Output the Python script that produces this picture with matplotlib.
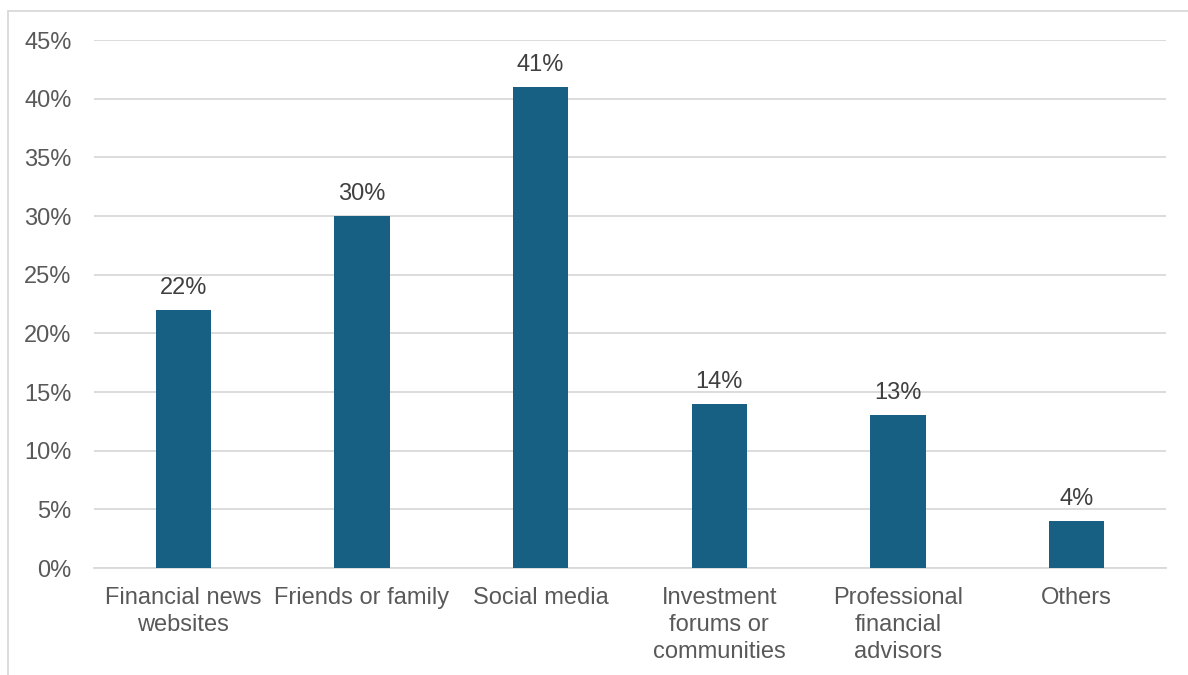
import matplotlib.pyplot as plt
from matplotlib.patches import Rectangle

plt.rcParams['font.family'] = ['Liberation Sans', 'DejaVu Sans']

# survey data: where people get investment information
categories = ['Financial news\nwebsites', 'Friends or family', 'Social media',
              'Investment\nforums or\ncommunities', 'Professional\nfinancial\nadvisors', 'Others']
shares = [22, 30, 41, 14, 13, 4]
ticks = [0, 5, 10, 15, 20, 25, 30, 35, 40, 45]

bar_color = '#176083'
grid_color = '#d9d9d9'
text_color = '#595959'

fig = plt.figure(figsize=(11.88, 6.75), dpi=100)
ax = fig.add_axes([0.0791, 0.1585, 0.9024, 0.7822])

x = range(len(categories))
bars = ax.bar(x, shares, width=0.31, color=bar_color, zorder=3)

# value labels above each bar
for xi, v in zip(x, shares):
    ax.text(xi, v + 0.95, f'{v}%', ha='center', va='bottom', fontsize=17, color='#404040')

ax.set_xlim(-0.5, len(categories) - 0.5)
ax.set_ylim(0, 45)
ax.set_yticks(ticks)
ax.set_yticklabels([f'{t}%' for t in ticks])
ax.set_xticks(list(x))
ax.set_xticklabels(categories, linespacing=1.29)

ax.tick_params(axis='both', length=0, labelsize=17, colors=text_color)
ax.tick_params(axis='y', pad=16)
ax.tick_params(axis='x', pad=14)
ax.yaxis.grid(True, color=grid_color, linewidth=1.3, zorder=0)
for side in ['top', 'right', 'left']:
    ax.spines[side].set_visible(False)
ax.spines['bottom'].set_color(grid_color)
ax.spines['bottom'].set_linewidth(1.3)

# outer chart border
fig.patches.append(Rectangle((8 / 1188, -0.05), 1.2, 1 - 11 / 675 + 0.05,
                             transform=fig.transFigure, fill=False,
                             edgecolor=grid_color, linewidth=1.3))

fig.savefig('out.png', dpi=100)
